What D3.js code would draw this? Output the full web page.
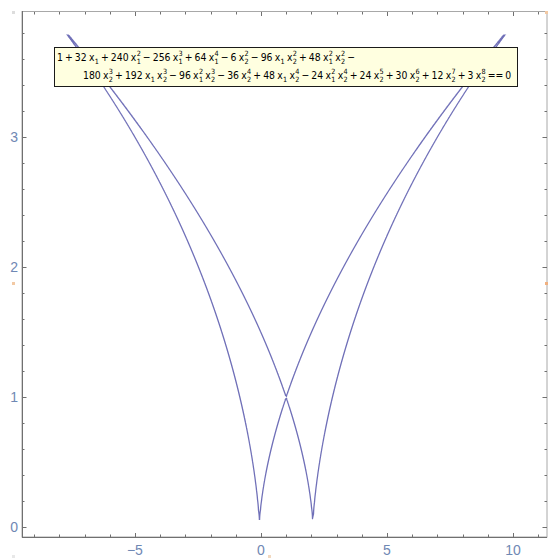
<!DOCTYPE html>
<html>
<head>
<meta charset="utf-8">
<script src="https://cdn.jsdelivr.net/npm/d3@7"></script>
<style>
  body { margin: 0; background: #fff; }
  svg { display: block; }
</style>
</head>
<body>
<svg id="chart" width="548" height="558"></svg>
<script>
// Terms of the polynomial printed in the label: [coefficient, power of x1, power of x2]
const terms = [
  [1, 0, 0], [32, 1, 0], [240, 2, 0], [-256, 3, 0], [64, 4, 0], [-6, 0, 2],
  [-96, 1, 2], [48, 2, 2], [-180, 0, 3], [192, 1, 3], [-96, 2, 3], [-36, 0, 4],
  [48, 1, 4], [-24, 2, 4], [24, 0, 5], [30, 0, 6], [12, 0, 7], [3, 0, 8],
];
const firstLineTerms = 8; // the label wraps after this many terms
const xTicks = [-5, 0, 5, 10];
const yTicks = [0, 1, 2, 3];
const xDomain = [-9.48, 11.35];
const yDomain = [-0.075, 3.97];
const curveRange = [0.055, 3.79]; // x2 span over which the curve was traced

const svg = d3.select('#chart');
const plot = { left: 22, right: 547, top: 11, bottom: 537 };

const x = d3.scaleLinear().domain(xDomain).range([plot.left, plot.right]);
const y = d3.scaleLinear().domain(yDomain).range([plot.bottom, plot.top]);

function poly(x1, x2) {
  let s = 0;
  for (const [c, a, b] of terms) s += c * x1 ** a * x2 ** b;
  return s;
}

// Sample the polynomial on a pixel grid (a bit larger than the frame) and
// trace its zero level with d3.contours.
const step = 1;
const pad = 4;
const gx0 = plot.left - pad;
const gy0 = plot.top - pad;
const nx = Math.ceil((plot.right - plot.left + 2 * pad) / step);
const ny = Math.ceil((plot.bottom - plot.top + 2 * pad) / step);
const values = new Float64Array(nx * ny);
for (let j = 0; j < ny; j += 1) {
  const v2 = y.invert(gy0 + (j + 0.5) * step);
  for (let i = 0; i < nx; i += 1) {
    values[j * nx + i] = poly(x.invert(gx0 + (i + 0.5) * step), v2);
  }
}
const zero = d3.contours().size([nx, ny]).thresholds([0])(values);
const toPixels = d3.geoTransform({
  point(px, py) { this.stream.point(gx0 + px * step, gy0 + py * step); },
});

svg.append('clipPath').attr('id', 'plot-clip')
  .append('rect')
  .attr('x', plot.left + 1).attr('y', y(curveRange[1]))
  .attr('width', plot.right - plot.left - 2)
  .attr('height', y(curveRange[0]) - y(curveRange[1]));

svg.append('g')
  .attr('clip-path', 'url(#plot-clip)')
  .selectAll('path')
  .data(zero)
  .join('path')
  .attr('d', d3.geoPath(toPixels))
  .attr('fill', 'none')
  .attr('stroke', '#7070b8')
  .attr('stroke-width', 1.3)
  .attr('stroke-linejoin', 'round');

// Frame with ticks on all four sides
const frameColor = '#707070';
svg.append('rect')
  .attr('x', plot.left).attr('y', plot.top + 0.5)
  .attr('width', plot.right - plot.left).attr('height', plot.bottom - plot.top - 0.5)
  .attr('fill', 'none').attr('stroke', '#a8a8a8').attr('stroke-width', 1);
svg.append('line')
  .attr('x1', plot.left + 0.5).attr('x2', plot.left + 0.5)
  .attr('y1', plot.top).attr('y2', plot.bottom + 0.5)
  .attr('stroke', frameColor);
svg.append('line')
  .attr('x1', plot.left).attr('x2', plot.right)
  .attr('y1', plot.bottom + 0.5).attr('y2', plot.bottom + 0.5)
  .attr('stroke', frameColor);

const xMinor = d3.range(Math.ceil(xDomain[0]), xDomain[1], 1).filter((d) => d % 5 !== 0);
const yMinor = d3.range(0, yDomain[1], 0.2).filter((d) => Math.abs(d - Math.round(d)) > 1e-6);
const ticks = svg.append('g').attr('stroke', frameColor).attr('stroke-width', 1);
function vTicks(list, len) {
  list.forEach((d) => {
    const px = Math.round(x(d)) + 0.5;
    ticks.append('line').attr('x1', px).attr('x2', px)
      .attr('y1', plot.bottom).attr('y2', plot.bottom - len);
    ticks.append('line').attr('x1', px).attr('x2', px)
      .attr('y1', plot.top + 1).attr('y2', plot.top + 1 + len);
  });
}
function hTicks(list, len) {
  list.forEach((d) => {
    const py = Math.round(y(d)) + 0.5;
    ticks.append('line').attr('x1', plot.left).attr('x2', plot.left + len)
      .attr('y1', py).attr('y2', py);
    ticks.append('line').attr('x1', plot.right).attr('x2', plot.right - len)
      .attr('y1', py).attr('y2', py);
  });
}
vTicks(xTicks, 4);
vTicks(xMinor, 2.5);
hTicks(yTicks, 4.5);
hTicks(yMinor, 2.5);

const labelColor = '#6f88b4';
svg.append('g')
  .selectAll('text')
  .data(xTicks)
  .join('text')
  .attr('x', (d) => x(d))
  .attr('y', 555)
  .attr('text-anchor', 'middle')
  .attr('font-family', 'Liberation Sans, Arial, sans-serif')
  .attr('font-size', 14)
  .attr('fill', labelColor)
  .text((d) => (d < 0 ? `\u2212${-d}` : d));
svg.append('g')
  .selectAll('text')
  .data(yTicks)
  .join('text')
  .attr('x', 18)
  .attr('y', (d) => y(d) + 5)
  .attr('text-anchor', 'end')
  .attr('font-family', 'Liberation Sans, Arial, sans-serif')
  .attr('font-size', 14)
  .attr('fill', labelColor)
  .text((d) => d);

// Selection handles of the graphic
const handles = [[12, 11, '#ddd'], [12, 282, '#f2c9a4'], [12, 555, '#e8e8e8'],
  [268, 555, '#f2d9c0'], [545, 282, '#f0b080'], [545, 11, '#f2c9a4']];
svg.append('g').selectAll('rect').data(handles).join('rect')
  .attr('x', (d) => d[0]).attr('y', (d) => d[1])
  .attr('width', 3).attr('height', 3).attr('fill', (d) => d[2]);

// Label box with the equation
const box = { x: 54.5, y: 47.5, w: 463, h: 39 };
svg.append('rect')
  .attr('x', box.x).attr('y', box.y).attr('width', box.w).attr('height', box.h)
  .attr('fill', '#ffffe0').attr('stroke', '#1a1a1a').attr('stroke-width', 1);

const label = svg.append('g')
  .attr('font-family', 'DejaVu Sans Condensed, Liberation Sans Narrow, sans-serif')
  .attr('fill', '#000');

function termTokens(term) {
  const [c, a, b] = term;
  const out = [];
  const mag = Math.abs(c);
  if (mag !== 1 || (a === 0 && b === 0)) out.push({ t: String(mag) });
  [[1, a], [2, b]].forEach(([idx, p]) => {
    if (p > 0) out.push({ t: 'x', sub: String(idx), sup: p > 1 ? String(p) : null });
  });
  return out;
}

function layout(fs, draw) {
  const lines = [[], []];
  terms.forEach((term, k) => {
    const line = k < firstLineTerms ? 0 : 1;
    if (k > 0 && k !== firstLineTerms) lines[line].push({ op: term[0] < 0 ? '\u2212' : '+' });
    lines[line].push(...termTokens(term));
    if (k === firstLineTerms - 1) lines[line].push({ op: terms[k + 1][0] < 0 ? '\u2212' : '+' });
  });
  lines[1].push({ op: '==' }, { t: '0' });
  const starts = [57, 83];
  const bases = [61, 79];
  const small = fs * 0.7;
  const gap = fs * 0.22;
  const opGap = fs * 0.1;
  const widths = [];
  lines.forEach((tokens, li) => {
    let cx = starts[li];
    const base = bases[li];
    tokens.forEach((tok, ti) => {
      if (tok.op) {
        cx += opGap;
        const w = measure(tok.op, fs);
        if (draw) label.append('text').attr('x', cx + opGap).attr('y', base).attr('font-size', fs).text(tok.op);
        cx += w + 2 * opGap;
        return;
      }
      if (ti > 0 && !tokens[ti - 1].op) cx += gap;
      else if (ti > 0) cx += opGap;
      const w = measure(tok.t, fs);
      if (draw) label.append('text').attr('x', cx).attr('y', base).attr('font-size', fs).text(tok.t);
      cx += w;
      if (tok.sub) {
        const ws = measure(tok.sub, small);
        const wp = tok.sup ? measure(tok.sup, small) : 0;
        if (draw) {
          label.append('text').attr('x', cx + 0.3).attr('y', base + 2.5).attr('font-size', small).text(tok.sub);
          if (tok.sup) label.append('text').attr('x', cx + 0.3).attr('y', base - 5.5).attr('font-size', small).text(tok.sup);
        }
        cx += Math.max(ws, wp) + 0.3;
      }
    });
    widths.push(cx - starts[li]);
  });
  return widths;
}

const probe = label.append('text').attr('visibility', 'hidden');
function measure(str, fs) {
  probe.attr('font-size', fs).text(str);
  return probe.node().getComputedTextLength();
}

const trial = 12;
const w2 = layout(trial, false)[1];
const fs = trial * (511 - 83) / w2;
layout(fs, true);
probe.remove();
</script>
</body>
</html>
